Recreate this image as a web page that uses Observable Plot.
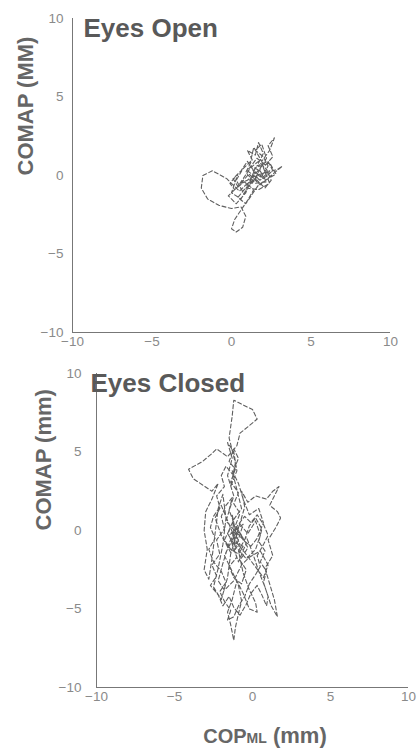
<!DOCTYPE html>
<html>
<head>
<meta charset="utf-8">
<script src="https://cdn.jsdelivr.net/npm/d3@7"></script>
<script src="https://cdn.jsdelivr.net/npm/@observablehq/plot@0.6"></script>
<style>
  html, body { margin: 0; padding: 0; background: #fff; }
  #chart { width: 417px; }
  #chart svg { display: block; }
</style>
</head>
<body>
<div id="chart"></div>
<script>
// Axis ticks
const ticks = [-10, -5, 0, 5, 10];
const domain = [-10, 10];

// Eyes Open trajectory (COP ML, COM AP) in mm
const eoX = [1.0, 0.5, -0.3, -1.2, -1.8, -1.9, -1.5, -0.8, 0.0, 0.6, 0.9, 0.7, 0.3, 0.0, 0.2, 0.6, 1.0, 1.4,
  0.8, 0.2, -0.1, 0.4, 0.0, 0.6, 1.1, 1.6, 1.2, 1.8, 2.2, 1.5, 0.9, 1.3, 1.0, 1.5, 1.7, 2.0, 1.6, 2.3, 2.6, 2.0,
  1.4, 0.9, 1.7, 2.4, 2.0, 2.6, 2.3, 2.7, 2.4, 1.9, 1.4, 1.2, 0.7, 0.3, 0.8, 1.3, 2.0, 2.9, 3.2, 2.5, 1.8, 1.1,
  0.5, -0.2, 0.3, 0.9, 1.5, 2.1, 1.6, 1.0, 1.8, 2.4, 1.3,
  1.6, 2.1, 2.5, 2.2, 1.7, 1.2, 0.8, 0.4, 0.1, 0.6, 1.0, 1.4, 1.9, 2.3, 2.0, 1.5, 1.9, 2.2, 1.8, 1.3,
  0.8, 0.4, 0.9, 1.3, 1.7, 2.3, 2.8, 2.4, 1.9, 1.5, 1.0, 0.6];
const eoY = [-0.5, -1.0, -0.2, 0.3, 0.0, -0.8, -1.5, -1.9, -2.1, -2.0, -2.6, -3.3, -3.6, -3.4, -2.8, -2.2, -1.6, -0.9,
  -0.4, -0.9, -0.5, 0.1, -1.1, -1.5, -0.6, -0.1, 0.6, 0.3, -0.4, -0.5, 0.2, 1.0, 1.6, 1.3, 2.1, 1.4, 0.6, 0.9, 0.3, -0.2,
  0.2, -0.8, -0.9, -0.5, 0.5, 1.2, 1.9, 2.4, 1.6, 0.9, 1.8, 0.9, 0.4, -0.3, -1.2, -0.3, 0.1, 0.4, 0.6, 0.0, -0.6, 0.1,
  -0.6, -1.3, -1.8, -1.1, 0.5, 0.7, 1.1, 0.3, -0.3, 0.3, -0.1,
  -0.3, -0.8, -0.3, 0.4, 0.9, 0.5, -0.1, -0.7, -0.2, 0.3, 0.9, 0.3, -0.1, 0.6, 1.2, 1.6, 2.0, 1.1, 0.4, -0.5,
  -0.9, -1.4, -1.8, -1.2, -0.6, -0.2, 0.1, 0.8, 0.6, 0.1, -0.3, -0.5];

// Eyes Closed trajectory (COP ML, COM AP) in mm
const ecX = [-1.0, -1.3, -1.1, -0.6, -1.5, -0.9, -0.4, -1.7, -1.2, -1.6, -1.3, -1.6, -1.2, -1.0, -1.4, -1.1, -1.5, -1.3,
  -1.2, -0.6, 0.0, 0.3, -0.3, -0.8, -1.0, -1.6, -2.3, -2.6, -3.2, -4.1, -3.8, -3.2, -2.6, -2.2, -2.6, -3.0, -3.1, -2.9,
  -3.1, -2.8, -2.6, -2.4, -2.2, -1.9, -1.7, -1.9, -2.2, -2.5, -2.0, -1.6, -1.4, -1.0, -0.5, -0.7, -0.3, 0.2, 0.9, 1.3,
  1.7, 1.4, 1.1, 1.6, 1.8, 1.5, 1.0, 1.3, 0.8, 1.1, 1.4, 1.6, 1.2, 0.8, 0.4, 0.0, -0.4, -0.9, -0.6, -0.2, 0.2, 0.3,
  -0.2, -0.6, -1.0, -1.3, -1.6, -1.4, -1.2, -1.1, -0.9, -0.7, -0.9, -1.4, -1.8, -1.3, -0.8, -0.3, 0.2, 0.5, 0.2, -0.4,
  -1.1, -1.6, -1.2, -0.7, -1.0, -1.3, -0.9, -0.6, -0.2, 0.4, 0.7, 0.3, -0.1, -0.6, -1.0, -1.5, -1.9, -2.2, -1.8, -1.2,
  -0.7, -0.2, 0.5, 1.0, 0.7, 0.1, -0.5, -1.0, -1.5, -2.0, -2.4, -2.0, -1.4, -0.8, -1.0,
  -1.2, -1.5, -1.3, -1.7, -2.0, -1.8, -2.3, -2.1, -2.6, -2.3, -2.7, -2.2, -1.9, -1.5, -1.2, -0.8, -0.4, -0.1, 0.3, 0.6,
  0.9, 1.0, 0.7, 0.9, 0.5, 0.8, 0.4, 0.6, 0.2, -0.2, -0.5, -0.9, -1.3, -1.0, -1.5, -1.2, -0.7, -0.4, -0.8, -0.3,
  -0.7, -1.1, -0.8, -1.2, -0.9, -1.4, -1.1, -1.5, -1.2, -0.9, -1.3, -1.7, -2.0, -1.8, -2.3, -2.1, -2.5, -2.7, -2.4, -2.8,
  -2.5, -2.0, -1.7, -2.1, -1.8, -1.4, -1.6, -1.2, -0.9, -0.5, -0.2, 0.2, 0.5, 0.3, 0.7, 1.0, 0.7, 0.3, -0.1, -0.5,
  -0.9, -1.3, -1.1, -0.6, -0.9, -1.4, -1.8, -1.5, -1.0];
const ecY = [-0.5, 1.0, -1.2, 0.4, -0.3, -2.0, -0.8, 0.6, 2.2, 3.5, 4.6, 5.6, 5.0, 3.8, 2.8, 4.3, 5.9, 7.3,
  8.3, 8.0, 7.7, 7.1, 6.6, 6.2, 5.4, 4.7, 5.2, 4.9, 4.4, 3.9, 3.3, 2.9, 2.5, 3.0, 2.0, 1.2, 0.0, -1.2,
  -2.5, -3.1, -1.8, -0.2, 1.4, 2.3, 0.8, -0.9, -2.4, -3.6, -4.4, -3.0, -1.5, -0.2, 1.5, 2.5, 1.8, 2.2, 2.0, 2.5,
  2.8, 2.2, 1.6, 1.2, 0.8, 0.2, -0.6, -1.6, -2.4, -3.4, -4.4, -5.5, -4.8, -3.6, -2.6, -1.4, -0.4, -1.3, -2.7, -3.8, -4.6, -5.2,
  -5.0, -4.0, -3.2, -4.4, -5.2, -6.0, -7.0, -6.2, -5.3, -4.5, -3.5, -2.4, -1.6, -0.6, 0.4, -0.2, 0.6, -0.3, -1.2, -1.8,
  -1.0, -0.2, 0.7, 1.4, 2.6, 3.8, 3.0, 2.0, 1.0, 1.4, 0.5, -0.5, -1.0, -0.6, 0.2, -0.8, -2.1, -3.2, -3.8, -3.2,
  -2.2, -1.7, -1.3, -2.2, -3.0, -2.2, -1.4, -0.8, 0.4, 1.6, 0.8, -0.3, -1.4, -0.9, -0.4,
  0.5, 1.3, 2.1, 1.6, 0.9, 0.1, -0.6, -1.5, -2.2, -2.9, -3.5, -4.1, -4.8, -4.2, -4.9, -5.4, -4.7, -4.0, -3.5, -4.1,
  -4.8, -4.2, -3.3, -2.6, -2.0, -1.3, -0.7, 0.1, 0.8, 0.3, -0.6, -0.1, -0.9, -1.7, -2.3, -3.0, -3.4, -2.5, -1.9, -1.1,
  -0.3, 0.3, 1.1, 1.7, 2.4, 3.1, 3.9, 4.4, 5.2, 4.6, 3.6, 4.1, 3.5, 2.8, 2.2, 1.5, 0.9, 0.2, -0.5, -1.2,
  -2.0, -2.6, -3.3, -3.9, -4.5, -5.1, -5.7, -5.5, -4.8, -4.2, -3.4, -2.8, -2.3, -1.6, -0.9, -0.3, 0.4, 1.0, 0.5, 0.9,
  0.4, -0.2, -0.8, -1.0, -1.5, -1.2, -0.6, 0.0, -0.5];

const eo = eoX.map((x, i) => ({x, y: eoY[i]}));
const ec = ecX.map((x, i) => ({x, y: ecY[i]}));

const font = "'Liberation Sans', Arial, Helvetica, sans-serif";
const axisColor = "#8a8a8a";
const traceColor = "#5f5f5f";

function panel({data, title, yLabel, height, marginLeft, marginRight, marginTop, marginBottom,
                yPad, titleDx, yLabelDx}) {
  return Plot.plot({
    width: 417, height, marginLeft, marginRight, marginTop, marginBottom,
    style: {fontFamily: font, fontSize: "13px", color: axisColor, background: "#fff"},
    x: {domain, ticks, label: null},
    y: {domain, ticks, label: null},
    marks: [
      Plot.axisX({ticks, tickSize: 0, tickPadding: 4, label: null, fill: axisColor, fontSize: 13.5}),
      Plot.axisY({ticks, tickSize: 0, tickPadding: yPad, label: null, fill: axisColor, fontSize: 13.5}),
      Plot.ruleX([-10], {stroke: "#777", strokeWidth: 1}),
      Plot.ruleY([-10], {stroke: "#777", strokeWidth: 1}),
      Plot.line(data, {x: "x", y: "y", stroke: traceColor, strokeWidth: 1.1,
        strokeDasharray: "4,2.5", strokeLinejoin: "round"}),
      Plot.text([title], {frameAnchor: "top-left", textAnchor: "start", lineAnchor: "top",
        dx: titleDx, dy: 0, fontSize: 26, fontWeight: "bold", fill: "#595959"}),
      Plot.text([yLabel], {frameAnchor: "left", rotate: -90, dx: yLabelDx, dy: 0,
        fontSize: 22, fontWeight: "bold", fill: "#666"})
    ]
  });
}

const topPanel = panel({data: eo, title: "Eyes Open", yLabel: "COMAP (MM)", height: 360,
  marginLeft: 72, marginRight: 27, marginTop: 18, marginBottom: 28, yPad: 9, titleDx: 11, yLabelDx: -47});
const bottomPanel = panel({data: ec, title: "Eyes Closed", yLabel: "COMAP (mm)", height: 391,
  marginLeft: 96, marginRight: 9, marginTop: 13, marginBottom: 64, yPad: 15, titleDx: -6, yLabelDx: -53});

// x-axis title with smaller "ML"
const sv = d3.select(bottomPanel);
const t = sv.append("text")
  .attr("x", 265).attr("y", 383)
  .attr("text-anchor", "middle")
  .attr("font-family", font).attr("font-weight", "bold")
  .attr("fill", "#666");
t.append("tspan").attr("font-size", 20).text("COP");
t.append("tspan").attr("font-size", 14).text("ML");
t.append("tspan").attr("font-size", 22).text(" (mm)");

document.getElementById("chart").append(topPanel, bottomPanel);
</script>
</body>
</html>
